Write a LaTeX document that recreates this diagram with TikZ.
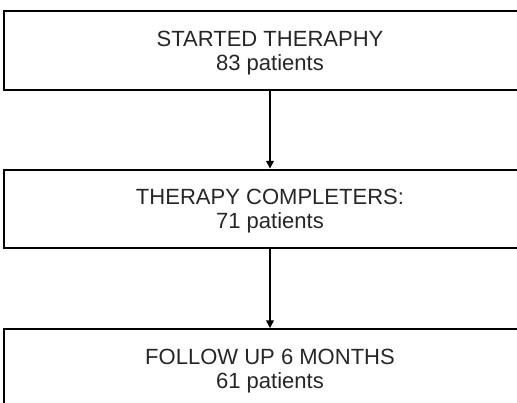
\documentclass[tikz,border=0pt]{standalone}
\usepackage{fontspec}
\setmainfont{Liberation Sans}
\usetikzlibrary{arrows.meta}

\newcommand{\toppad}{\rule{0pt}{17pt}}

\begin{document}
\begin{tikzpicture} [x=0.03cm, y=-0.03cm, align=center,
  stagebox/.style={rectangle, draw, line width=1.9pt, minimum width=15.96cm,
    minimum height=2.36cm, font=\fontsize{18.8}{20.4}\selectfont, text=black!85}]
\clip (0, 0) rectangle (517, 403);
\useasboundingbox (0, 0) rectangle (517, 403);
\path (270, 50.5) node[stagebox] (s0) {\toppad STARTED THERAPHY\\83 patients}
      (270, 209) node[stagebox] (s1) {\toppad THERAPY COMPLETERS:\\71 patients}
      (270, 368.5) node[stagebox] (s2) {\toppad FOLLOW UP 6 MONTHS\\61 patients};

\draw[-{Triangle[width=6.5pt, length=6.5pt]}, line width=1.3pt] (s0) to (s1);
\draw[-{Triangle[width=6.5pt, length=6.5pt]}, line width=1.3pt] (s1) to (s2);

\end{tikzpicture}
\end{document}
